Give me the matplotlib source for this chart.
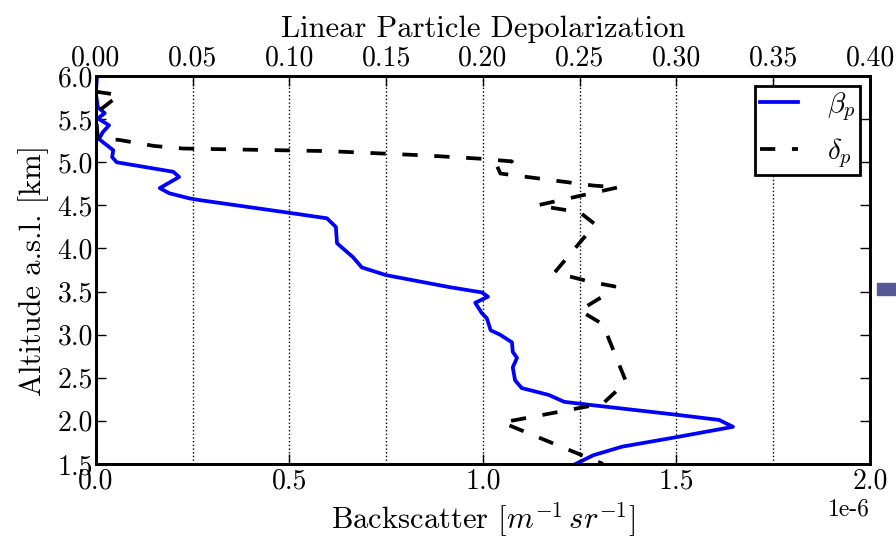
import numpy as np
import matplotlib
matplotlib.use("Agg")
import matplotlib.pyplot as plt
from matplotlib.patches import Rectangle

plt.rcParams['font.family'] = 'serif'
plt.rcParams['font.serif'] = ['cmr10']
plt.rcParams['mathtext.fontset'] = 'cm'
plt.rcParams['axes.unicode_minus'] = False
plt.rcParams['lines.scale_dashes'] = False

# backscatter profile (beta_p), m^-1 sr^-1
alt_beta = [6.0, 5.8, 5.64, 5.57, 5.51, 5.43, 5.35, 5.27, 5.14, 5.06, 5.0, 4.89, 4.83,
            4.70, 4.64, 4.58, 4.56, 4.42, 4.35, 4.25, 4.06, 3.90, 3.78, 3.69, 3.55, 3.49,
            3.44, 3.37, 3.25, 3.19, 3.05, 3.0, 2.91, 2.80, 2.73, 2.62, 2.47, 2.38, 2.30,
            2.22, 2.18, 2.07, 2.01, 1.93, 1.81, 1.70, 1.60, 1.5]
beta = [0.003, 0.0, 0.005, 0.023, 0.005, 0.034, 0.018, 0.008, 0.045, 0.042, 0.054, 0.20, 0.215,
        0.165, 0.19, 0.243, 0.27, 0.49, 0.597, 0.62, 0.623, 0.664, 0.687, 0.75, 0.915, 0.997,
        1.013, 0.98, 0.997, 1.01, 1.02, 1.044, 1.075, 1.077, 1.088, 1.077, 1.083, 1.10, 1.17,
        1.21, 1.285, 1.50, 1.61, 1.646, 1.50, 1.36, 1.285, 1.24]

# linear particle depolarization (delta_p)
alt_delta = [5.82, 5.78, 5.57, 5.28, 5.26, 5.19, 5.16, 5.13, 5.08, 5.04, 5.01, 4.97, 4.87,
             4.73, 4.71, 4.54, 4.50, 4.42, 4.28, 3.72, 3.61, 3.56, 3.50, 3.28, 3.12, 2.45,
             2.20, 1.98, 1.5]
delta = [0.0, 0.012, 0.0, 0.001, 0.012, 0.03, 0.045, 0.12, 0.17, 0.2, 0.215, 0.207, 0.209,
         0.257, 0.27, 0.236, 0.228, 0.25, 0.258, 0.237, 0.256, 0.268, 0.266, 0.25, 0.262, 0.274,
         0.262, 0.21, 0.262]

beta = np.array(beta) * 1e-6

fig = plt.figure(figsize=(8.96, 5.4), dpi=100)
ax = fig.add_axes([0.107, 0.141, 0.864, 0.718])
ax2 = ax.twiny()

l1, = ax.plot(beta, alt_beta, color='blue', lw=2.7, label=r'$\beta_p$')
l2, = ax2.plot(delta, alt_delta, color='black', lw=2.7, dashes=(11, 12), label=r'$\delta_p$')

ax.set_xlim(0, 2e-6)
ax.set_ylim(1.5, 6.0)
ax2.set_xlim(0, 0.4)
ax.set_xticks(np.arange(0, 2.01e-6, 0.5e-6))
ax.set_yticks(np.arange(1.5, 6.01, 0.5))
ax2.set_xticks(np.arange(0, 0.401, 0.05))
ax2.xaxis.set_major_formatter(matplotlib.ticker.FormatStrFormatter('%.2f'))
ax2.grid(True, axis='x', color='black', linestyle=':', lw=1)

ax.set_xlabel(r'Backscatter $[m^{-1}\,sr^{-1}]$', fontsize=22, labelpad=4)
ax.set_ylabel('Altitude a.s.l. [km]', fontsize=22, labelpad=6)
ax2.set_xlabel('Linear Particle Depolarization', fontsize=22, labelpad=6)

for a in (ax, ax2):
    a.tick_params(direction='in', length=7, width=1, labelsize=20, pad=3)
    for s in a.spines.values():
        s.set_linewidth(2)
ax.tick_params(axis='y', right=True, pad=2)
ax.xaxis.get_offset_text().set_fontsize(17)

leg = ax2.legend(handles=[l1, l2], loc='upper right', fontsize=21, handlelength=1.3,
                 fancybox=False, framealpha=1, borderaxespad=0.35, borderpad=0.15,
                 labelspacing=0.45, handletextpad=1.0)
leg.get_frame().set_edgecolor('black')
leg.get_frame().set_linewidth(2)

fig.patches.append(Rectangle((877 / 896, 1 - 295 / 540), 19 / 896, 12 / 540,
                             transform=fig.transFigure, color='#555a96'))

plt.savefig('out.png', dpi=100)
